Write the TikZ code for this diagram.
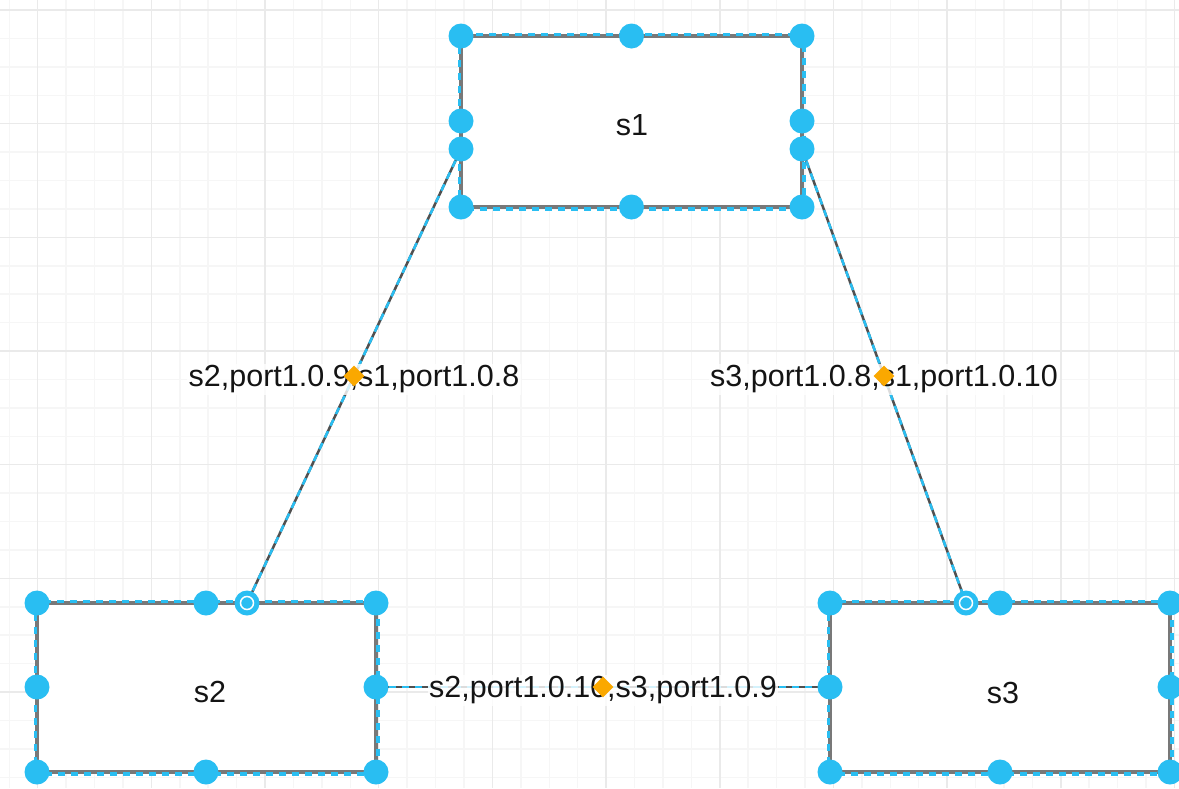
\documentclass[tikz,border=0pt]{standalone}
\usepackage{fontspec}
\setmainfont{Liberation Sans}
\usetikzlibrary{shapes.geometric}
\definecolor{hcyan}{RGB}{41,190,242}
\definecolor{bgray}{RGB}{120,120,120}
\definecolor{egray}{RGB}{80,80,80}
\definecolor{minorg}{RGB}{246,246,246}
\definecolor{majorg}{RGB}{234,234,234}
\definecolor{dorange}{RGB}{250,168,0}
\definecolor{txt}{RGB}{20,20,20}
\begin{document}
\begin{tikzpicture}[x=1pt,y=-1pt,
 handle/.style={circle,fill=hcyan,minimum size=25pt,inner sep=0pt},
 ringhandle/.style={circle,fill=hcyan,minimum size=25pt,inner sep=0pt},
 boxshape/.style={rectangle,draw=bgray,line width=3.5pt,fill=white,inner sep=0pt},
 selbox/.style={draw=hcyan,line width=3.5pt,dash pattern=on 7pt off 6pt},
 edgebase/.style={draw=egray,line width=2.5pt},
 edgesel/.style={draw=hcyan,line width=2.5pt,dash pattern=on 7pt off 6pt},
 elabel/.style={fill=white,fill opacity=0.8,text opacity=1,inner sep=1.5pt,text=txt,font=\fontsize{30.5}{35}\selectfont,anchor=base,yshift=-10.9pt},
 boxtitle/.style={text=txt,font=\fontsize{30.5}{35}\selectfont,anchor=base},
 middiamond/.style={diamond,fill=dorange,minimum size=21pt,inner sep=0pt},
 minorgrid/.style={draw=minorg,line width=1.5pt},
 majorgrid/.style={draw=majorg,line width=1.5pt}]
\fill[white] (0,0) rectangle (1179,788);
\useasboundingbox (0,0) rectangle (1179,788);
% grid
\foreach \k in {-2,...,41} \draw[minorgrid] ({37.7+28.42*\k},0) -- ({37.7+28.42*\k},788);
\foreach \k in {-1,...,28} \draw[minorgrid] (0,{10+28.42*\k}) -- (1179,{10+28.42*\k});
\foreach \k in {-1,...,10} \draw[majorgrid] ({37.7+113.68*\k},0) -- ({37.7+113.68*\k},788);
\foreach \k in {0,...,7} \draw[majorgrid] (0,{10+113.68*\k}) -- (1179,{10+113.68*\k});
% boxes
\node[boxshape,minimum width=341pt,minimum height=171pt] (s1) at (631.5,121.5) {};
\draw[selbox] (s1.north west) rectangle (s1.south east);
\node[boxshape,minimum width=339pt,minimum height=169pt] (s2) at (206.5,687.5) {};
\draw[selbox] (s2.north west) rectangle (s2.south east);
\node[boxshape,minimum width=340pt,minimum height=169pt] (s3) at (1000,687.5) {};
\draw[selbox] (s3.north west) rectangle (s3.south east);
\node[boxtitle] (t1) at (632,135) {s1};
\node[boxtitle] (t2) at (210,702) {s2};
\node[boxtitle] (t3) at (1003,703) {s3};
% edge end points
\coordinate (a1) at (461,149);
\coordinate (a2) at (802,149);
\coordinate (b1) at (247,603);
\coordinate (c1) at (966,603);
\coordinate (b2) at (376,687);
\coordinate (c2) at (830,687);
% edges
\draw[edgebase] (a1) -- (b1) coordinate[midway] (m1);
\draw[edgesel] (a1) -- (b1);
\draw[edgebase] (a2) -- (c1) coordinate[midway] (m2);
\draw[edgesel] (a2) -- (c1);
\draw[edgebase] (b2) -- (c2) coordinate[midway] (m3);
\draw[edgesel] (b2) -- (c2);
\node[elabel] (l1) at (m1) {s2,port1.0.9,s1,port1.0.8};
\node[elabel] (l2) at (m2) {s3,port1.0.8,s1,port1.0.10};
\node[elabel] (l3) at (m3) {s2,port1.0.10,s3,port1.0.9};
% handles s1
\node[handle] (h11) at (461,36) {};
\node[handle] (h12) at (631.5,36) {};
\node[handle] (h13) at (802,36) {};
\node[handle] (h14) at (461,121) {};
\node[handle] (h15) at (802,121) {};
\node[handle] (h16) at (461,207) {};
\node[handle] (h17) at (631.5,207) {};
\node[handle] (h18) at (802,207) {};
\node[handle] (e1) at (a1) {};
\node[handle] (e2) at (a2) {};
% handles s2
\node[handle] (h21) at (37,603) {};
\node[handle] (h22) at (206,603) {};
\node[handle] (h23) at (376,603) {};
\node[handle] (h24) at (37,687) {};
\node[handle] (h25) at (b2) {};
\node[handle] (h26) at (37,772) {};
\node[handle] (h27) at (206,772) {};
\node[handle] (h28) at (376,772) {};
\node[ringhandle] (rb) at (b1) {};
\draw[white,line width=1.5pt] (rb.center) circle[radius=6.5pt];
% handles s3
\node[handle] (h31) at (830,603) {};
\node[handle] (h32) at (1000,603) {};
\node[handle] (h33) at (1170,603) {};
\node[handle] (h34) at (c2) {};
\node[handle] (h35) at (1170,687) {};
\node[handle] (h36) at (830,772) {};
\node[handle] (h37) at (1000,772) {};
\node[handle] (h38) at (1170,772) {};
\node[ringhandle] (rc) at (c1) {};
\draw[white,line width=1.5pt] (rc.center) circle[radius=6.5pt];
% midpoints
\node[middiamond] (d1) at (m1) {};
\node[middiamond] (d2) at (m2) {};
\node[middiamond] (d3) at (m3) {};
\end{tikzpicture}
\end{document}
